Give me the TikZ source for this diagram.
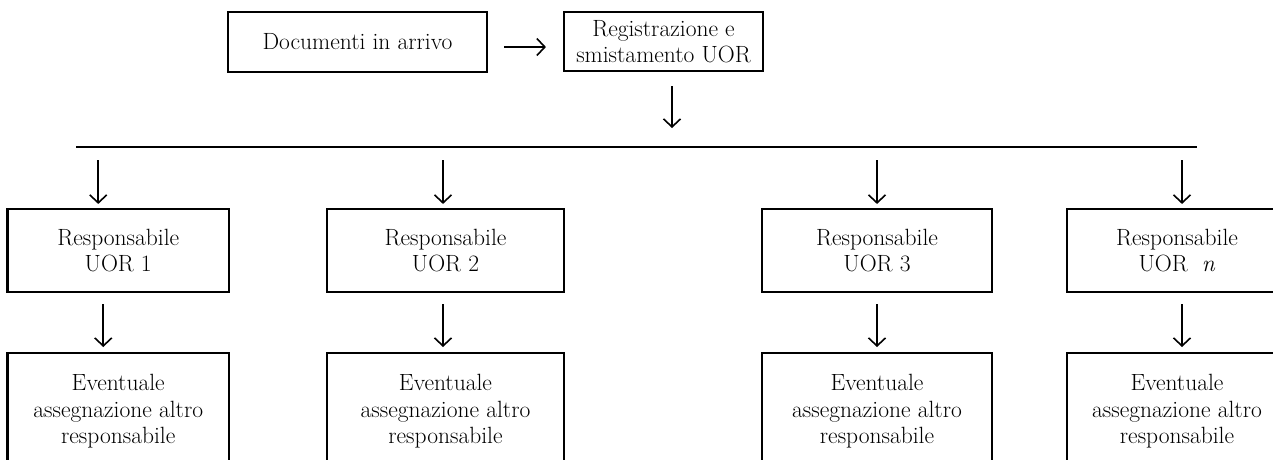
\documentclass[tikz,border=0pt]{standalone}
\usetikzlibrary{arrows.meta}
\begin{document}
\begin{tikzpicture}[x=1pt,y=-1pt,
  box/.style={draw,line width=2.1pt,inner sep=0pt,align=center,font=\fontsize{23.5}{26.5}\selectfont},
  txt/.style={inner sep=0pt,align=center,font=\fontsize{23.5}{26.5}\selectfont},
  arr/.style={line width=1.6pt,-{Straight Barb[length=8pt,width=17pt]}},
  bus/.style={line width=2pt}]
\clip (0,0) rectangle (1273,459);
\fill[white] (0,0) rectangle (1273,459);
% top row
\node[box,minimum width=259pt,minimum height=60pt] (doc) at (357.5,42) {Documenti in arrivo};
\node[box,minimum width=199pt,minimum height=59pt] (reg) at (663.5,41.5) {Registrazione e\\smistamento UOR};
\draw[arr,shorten <=16pt,shorten >=17pt] ([yshift=-5pt]doc.east) -- ([yshift=-5pt]doc.east -| reg.west);
% bus
\coordinate (busL) at (76,147);
\coordinate (busR) at (1197,147);
\draw[bus] (busL) -- (busR);
\draw[arr,shorten <=14pt,shorten >=19pt] ([xshift=8.5pt]reg.south) -- ([xshift=8.5pt]reg.south |- busL);
% second row
\node[box,minimum width=221.5pt,minimum height=83pt] (r1) at (118.25,250.5) {Responsabile\\UOR 1};
\node[box,minimum width=237pt,minimum height=83pt] (r2) at (445.5,250.5) {Responsabile\\UOR 2};
\node[box,minimum width=230pt,minimum height=83pt] (r3) at (877,250.5) {Responsabile\\UOR 3};
\node[box,anchor=west,minimum width=260pt,minimum height=83pt] (r4) at (1066,250.5) {};
\node[txt] (u4) at (1177,250.5) {Responsabile\\UOR\hspace{0.6em}\textit{n}};
\draw[arr,shorten <=13pt,shorten >=4pt] ([xshift=-20pt]r1.north |- busL) -- ([xshift=-20pt]r1.north);
\draw[arr,shorten <=13pt,shorten >=4pt] ([xshift=-2.5pt]r2.north |- busL) -- ([xshift=-2.5pt]r2.north);
\draw[arr,shorten <=13pt,shorten >=4pt] (r3.north |- busL) -- (r3.north);
\draw[arr,shorten <=13pt,shorten >=4pt] ([xshift=5pt]u4.north |- busL) -- ([xshift=5pt]u4.north |- r4.north);
% third row
\node[box,anchor=north,minimum width=221.5pt,minimum height=140pt] (e1) at (118.25,352) {};
\node[box,anchor=north,minimum width=237pt,minimum height=140pt] (e2) at (445.5,352) {};
\node[box,anchor=north,minimum width=230pt,minimum height=140pt] (e3) at (877,352) {};
\node[box,anchor=north west,minimum width=260pt,minimum height=140pt] (e4) at (1066,352) {};
\node[txt,anchor=north] (t1) at (118.25,374) {Eventuale\\assegnazione altro\\responsabile};
\node[txt,anchor=north] (t2) at (445.5,374) {Eventuale\\assegnazione altro\\responsabile};
\node[txt,anchor=north] (t3) at (877,374) {Eventuale\\assegnazione altro\\responsabile};
\node[txt,anchor=north] (t4) at (1177,374) {Eventuale\\assegnazione altro\\responsabile};
\draw[arr,shorten <=11pt,shorten >=5pt] ([xshift=-15pt]r1.south) -- ([xshift=-15pt]e1.north);
\draw[arr,shorten <=11pt,shorten >=5pt] ([xshift=-2.5pt]r2.south) -- ([xshift=-2.5pt]e2.north);
\draw[arr,shorten <=11pt,shorten >=5pt] (r3.south) -- (e3.north);
\draw[arr,shorten <=11pt,shorten >=5pt] ([xshift=5pt]u4.south |- r4.south) -- ([xshift=5pt]u4.south |- e4.north);
\end{tikzpicture}
\end{document}
